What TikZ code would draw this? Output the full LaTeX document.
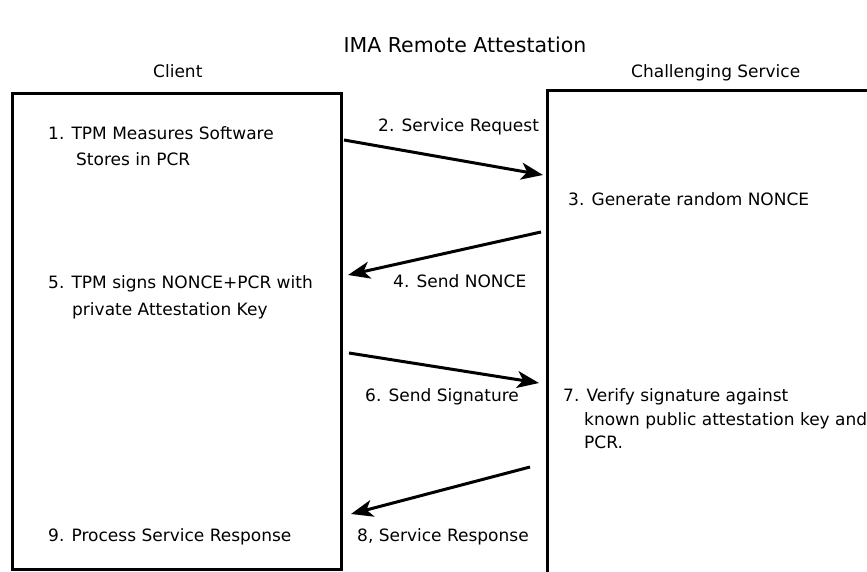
\documentclass[tikz,border=0pt]{standalone}
\usepackage{fontspec}
\setmainfont{DejaVu Sans}
\usetikzlibrary{arrows.meta}

\begin{document}
\begin{tikzpicture}[x=1pt,y=-1pt,
		box/.style={draw,line width=3pt},
		msg/.style={line width=3pt,-{Stealth[length=22pt,width=17pt,inset=6pt]}},
		txt/.style={font=\fontsize{17}{25}\selectfont,inner sep=0pt,anchor=base west}]
		\useasboundingbox (0,0) rectangle (867,572);
		\clip (0,0) rectangle (867,572);
		\node[font=\fontsize{20.5}{26}\selectfont,anchor=base] (title) at (465,53) {IMA Remote Attestation};
		\node[txt] (client) at (153,78) {Client};
		\node[txt] (service) at (631,78) {Challenging Service};
		\draw[box] (12,94) rectangle (341,569);
		\draw[box] (547,91) rectangle (890,600);
		% client side
		\node[txt] (s1a) at (48,139.5) {1. TPM Measures Software};
		\node[txt] (s1b) at (76,165.5) {Stores in PCR};
		\node[txt] (s5a) at (48,288) {5. TPM signs NONCE+PCR with};
		\node[txt] (s5b) at (72,315) {private Attestation Key};
		\node[txt] (s9) at (48,541) {9. Process Service Response};
		% service side
		\node[txt] (s3) at (568,206) {3. Generate random NONCE};
		\node[txt] (s7a) at (563,401) {7. Verify signature against};
		\node[txt] (s7b) at (584,425) {known public attestation key and};
		\node[txt] (s7c) at (584,448) {PCR.};
		% messages
		\coordinate (req-s) at (344,140);
		\coordinate (req-e) at (543,175);
		\coordinate (nonce-s) at (541,232);
		\coordinate (nonce-e) at (348,275);
		\coordinate (sig-s) at (349,353);
		\coordinate (sig-e) at (539,383);
		\coordinate (resp-s) at (530,467);
		\coordinate (resp-e) at (351,514);
		\draw[msg] (req-s) -- (req-e);
		\draw[msg] (nonce-s) -- (nonce-e);
		\draw[msg] (sig-s) -- (sig-e);
		\draw[msg] (resp-s) -- (resp-e);
		\node[txt] (l2) at (378,132) {2. Service Request};
		\node[txt] (l4) at (393,287) {4. Send NONCE};
		\node[txt] (l6) at (365,401) {6. Send Signature};
		\node[txt] (l8) at (357,541) {8, Service Response};
	\end{tikzpicture}
\end{document}
